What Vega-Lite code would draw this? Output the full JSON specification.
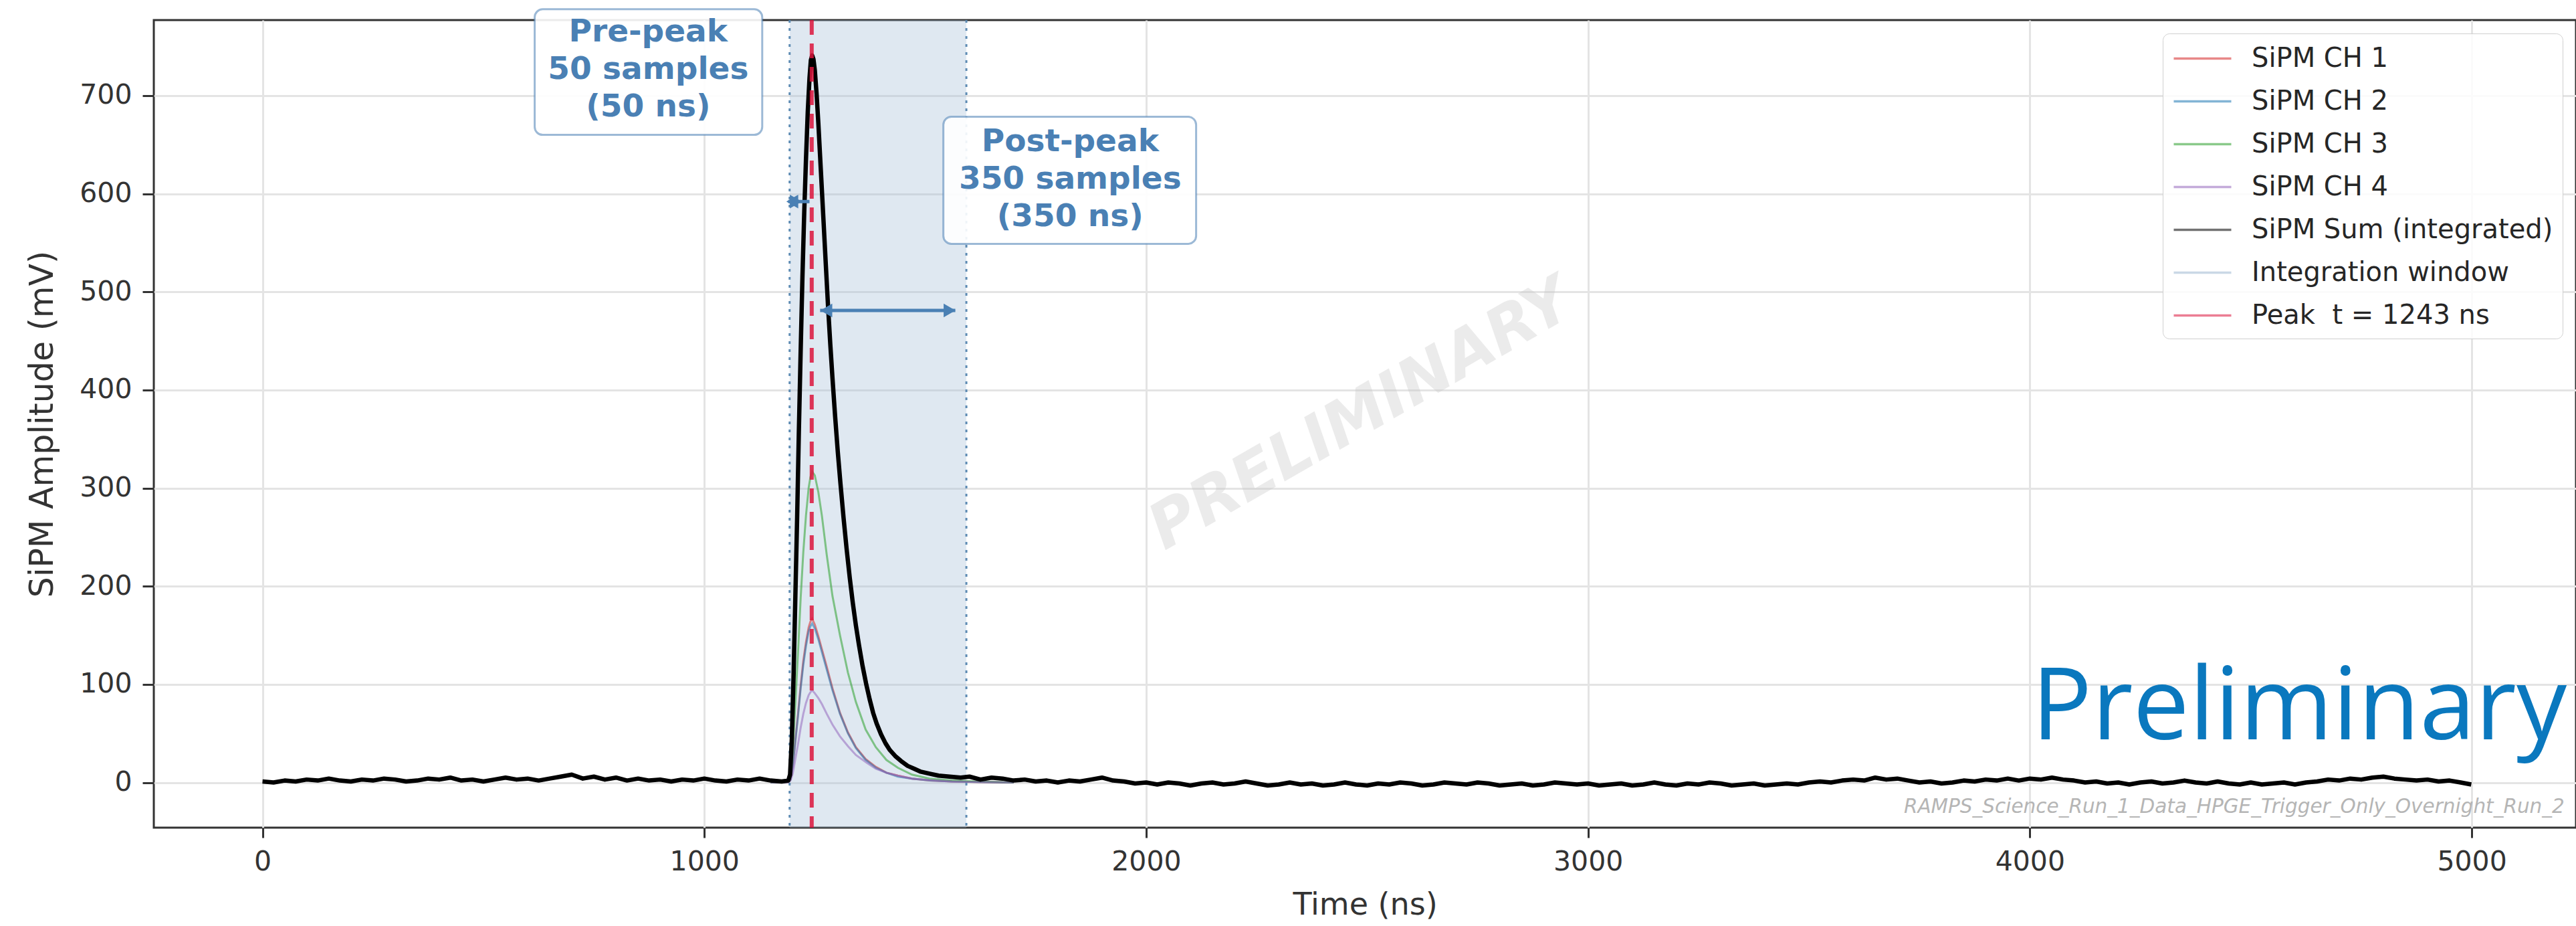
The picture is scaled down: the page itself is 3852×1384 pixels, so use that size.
{
 "$schema": "https://vega.github.io/schema/vega-lite/v6.json",
 "width": 3622,
 "height": 1207,
 "autosize": {"type": "none"},
 "padding": {"left": 230, "top": 30, "right": 0, "bottom": 147},
 "background": "white",
 "config": {
  "font": "DejaVu Sans",
  "view": {"stroke": "#333333", "strokeWidth": 3},
  "axisX": {"tickCount": 6, "format": "d", "domain": false, "grid": true, "gridColor": "#e4e4e4", "gridWidth": 3, "tickSize": 15, "tickWidth": 3, "tickColor": "#333333", "labelFontSize": 41, "labelColor": "#333333", "labelPadding": 16, "titleFontSize": 46, "titleFontWeight": "normal", "titleColor": "#333333", "titlePadding": 22},
  "axisY": {"tickCount": 8, "domain": false, "grid": true, "gridColor": "#e4e4e4", "gridWidth": 3, "tickSize": 17, "tickWidth": 3, "tickColor": "#333333", "labelFontSize": 41, "labelColor": "#333333", "labelPadding": 16, "titleFontSize": 49, "titleFontWeight": "normal", "titleColor": "#333333", "titlePadding": 30}
 },
 "layer": [
  {
   "data": {"values": [{"a": 1193, "b": 1593, "series": "Integration window"}]},
   "mark": {"type": "rect", "fillOpacity": 0.33},
   "encoding": {
    "x": {"field": "a", "type": "quantitative", "title": "Time (ns)", "scale": {"domain": [-246, 5236], "nice": false, "zero": false}, "axis": {"orient": "bottom"}},
    "x2": {"field": "b"},
    "color": {
     "field": "series", "type": "nominal",
     "scale": {"domain": ["SiPM CH 1", "SiPM CH 2", "SiPM CH 3", "SiPM CH 4", "SiPM Sum (integrated)", "Integration window", "Peak\u00a0 t = 1243 ns"],
               "range": ["#d62728", "#1f77b4", "#2ca02c", "#9467bd", "#000000", "#9fbad3", "#dc143c"]},
     "legend": {
      "title": null, "orient": "none", "legendX": 3004, "legendY": 20, "direction": "vertical",
      "fillColor": "rgba(255,255,255,0.85)", "strokeColor": "#d0d0d0", "cornerRadius": 10, "padding": 14,
      "labelFont": "DejaVu Sans", "labelFontSize": 40, "labelColor": "#262626", "labelLimit": 800, "labelOffset": 50,
      "symbolSize": 1849, "symbolOffset": 22, "rowPadding": 20,
      "symbolType": "M-2,0H2",
      "symbolStrokeWidth": 3.5
     }
    }
   }
  },
  {
   "data": {"values": [{"t": 1193}, {"t": 1593}]},
   "mark": {"type": "rule", "color": "#5d8bb3", "strokeWidth": 3, "strokeDash": [4, 8]},
   "encoding": {"x": {"field": "t", "type": "quantitative", "title": "Time (ns)"}}
  },
  {
   "data": {"values": [
   {"series":"SiPM CH 1","t":1150,"v":0},{"series":"SiPM CH 1","t":1190,"v":0.5},{"series":"SiPM CH 1","t":1195,"v":3},{"series":"SiPM CH 1","t":1200,"v":17},{"series":"SiPM CH 1","t":1206,"v":43},{"series":"SiPM CH 1","t":1212,"v":70},{"series":"SiPM CH 1","t":1218,"v":99},{"series":"SiPM CH 1","t":1224,"v":124},{"series":"SiPM CH 1","t":1230,"v":143},{"series":"SiPM CH 1","t":1236,"v":158},{"series":"SiPM CH 1","t":1240,"v":164},{"series":"SiPM CH 1","t":1244,"v":167},{"series":"SiPM CH 1","t":1250,"v":161},{"series":"SiPM CH 1","t":1258,"v":149},{"series":"SiPM CH 1","t":1266,"v":136},{"series":"SiPM CH 1","t":1277,"v":118},{"series":"SiPM CH 1","t":1290,"v":96},{"series":"SiPM CH 1","t":1307,"v":71},{"series":"SiPM CH 1","t":1325,"v":51},{"series":"SiPM CH 1","t":1343,"v":36},{"series":"SiPM CH 1","t":1365,"v":24},{"series":"SiPM CH 1","t":1388,"v":16},{"series":"SiPM CH 1","t":1412,"v":10},{"series":"SiPM CH 1","t":1438,"v":7},{"series":"SiPM CH 1","t":1470,"v":4},{"series":"SiPM CH 1","t":1510,"v":2},{"series":"SiPM CH 1","t":1560,"v":1},{"series":"SiPM CH 1","t":1620,"v":0.5},{"series":"SiPM CH 1","t":1700,"v":0},
   {"series":"SiPM CH 2","t":1150,"v":0},{"series":"SiPM CH 2","t":1190,"v":0.5},{"series":"SiPM CH 2","t":1195,"v":3},{"series":"SiPM CH 2","t":1200,"v":16},{"series":"SiPM CH 2","t":1206,"v":42},{"series":"SiPM CH 2","t":1212,"v":68},{"series":"SiPM CH 2","t":1218,"v":96},{"series":"SiPM CH 2","t":1224,"v":120},{"series":"SiPM CH 2","t":1230,"v":139},{"series":"SiPM CH 2","t":1236,"v":154},{"series":"SiPM CH 2","t":1240,"v":159},{"series":"SiPM CH 2","t":1244,"v":162},{"series":"SiPM CH 2","t":1250,"v":157},{"series":"SiPM CH 2","t":1258,"v":146},{"series":"SiPM CH 2","t":1266,"v":133},{"series":"SiPM CH 2","t":1277,"v":115},{"series":"SiPM CH 2","t":1290,"v":94},{"series":"SiPM CH 2","t":1307,"v":70},{"series":"SiPM CH 2","t":1325,"v":50},{"series":"SiPM CH 2","t":1343,"v":35},{"series":"SiPM CH 2","t":1365,"v":23},{"series":"SiPM CH 2","t":1388,"v":15},{"series":"SiPM CH 2","t":1412,"v":10},{"series":"SiPM CH 2","t":1438,"v":6},{"series":"SiPM CH 2","t":1470,"v":4},{"series":"SiPM CH 2","t":1510,"v":2},{"series":"SiPM CH 2","t":1560,"v":1},{"series":"SiPM CH 2","t":1620,"v":0.5},{"series":"SiPM CH 2","t":1700,"v":0},
   {"series":"SiPM CH 3","t":1150,"v":0},{"series":"SiPM CH 3","t":1190,"v":1},{"series":"SiPM CH 3","t":1195,"v":6},{"series":"SiPM CH 3","t":1200,"v":32},{"series":"SiPM CH 3","t":1206,"v":81},{"series":"SiPM CH 3","t":1212,"v":133},{"series":"SiPM CH 3","t":1218,"v":188},{"series":"SiPM CH 3","t":1224,"v":235},{"series":"SiPM CH 3","t":1230,"v":272},{"series":"SiPM CH 3","t":1236,"v":300},{"series":"SiPM CH 3","t":1240,"v":311},{"series":"SiPM CH 3","t":1244,"v":317},{"series":"SiPM CH 3","t":1250,"v":313},{"series":"SiPM CH 3","t":1258,"v":296},{"series":"SiPM CH 3","t":1266,"v":272},{"series":"SiPM CH 3","t":1277,"v":232},{"series":"SiPM CH 3","t":1290,"v":190},{"series":"SiPM CH 3","t":1307,"v":150},{"series":"SiPM CH 3","t":1325,"v":112},{"series":"SiPM CH 3","t":1343,"v":82},{"series":"SiPM CH 3","t":1365,"v":54},{"series":"SiPM CH 3","t":1388,"v":36},{"series":"SiPM CH 3","t":1412,"v":23},{"series":"SiPM CH 3","t":1438,"v":15},{"series":"SiPM CH 3","t":1470,"v":8},{"series":"SiPM CH 3","t":1510,"v":4},{"series":"SiPM CH 3","t":1560,"v":2},{"series":"SiPM CH 3","t":1620,"v":1},{"series":"SiPM CH 3","t":1700,"v":0},
   {"series":"SiPM CH 4","t":1150,"v":0},{"series":"SiPM CH 4","t":1190,"v":0.3},{"series":"SiPM CH 4","t":1195,"v":2},{"series":"SiPM CH 4","t":1200,"v":9},{"series":"SiPM CH 4","t":1206,"v":24},{"series":"SiPM CH 4","t":1212,"v":39},{"series":"SiPM CH 4","t":1218,"v":56},{"series":"SiPM CH 4","t":1224,"v":70},{"series":"SiPM CH 4","t":1230,"v":81},{"series":"SiPM CH 4","t":1236,"v":89},{"series":"SiPM CH 4","t":1240,"v":92},{"series":"SiPM CH 4","t":1244,"v":94},{"series":"SiPM CH 4","t":1250,"v":91},{"series":"SiPM CH 4","t":1258,"v":86},{"series":"SiPM CH 4","t":1266,"v":80},{"series":"SiPM CH 4","t":1277,"v":70},{"series":"SiPM CH 4","t":1290,"v":59},{"series":"SiPM CH 4","t":1307,"v":47},{"series":"SiPM CH 4","t":1325,"v":37},{"series":"SiPM CH 4","t":1343,"v":28},{"series":"SiPM CH 4","t":1368,"v":20},{"series":"SiPM CH 4","t":1388,"v":14},{"series":"SiPM CH 4","t":1412,"v":10},{"series":"SiPM CH 4","t":1438,"v":7},{"series":"SiPM CH 4","t":1470,"v":4},{"series":"SiPM CH 4","t":1510,"v":2.5},{"series":"SiPM CH 4","t":1560,"v":1},{"series":"SiPM CH 4","t":1620,"v":0.5},{"series":"SiPM CH 4","t":1700,"v":0}
   ]},
   "mark": {"type": "line", "strokeWidth": 3, "opacity": 0.55},
   "encoding": {
    "x": {"field": "t", "type": "quantitative", "title": "Time (ns)"},
    "y": {"field": "v", "type": "quantitative", "title": "SiPM Amplitude (mV)", "scale": {"domain": [-46, 777], "nice": false, "zero": false}},
    "color": {"field": "series", "type": "nominal"}
   }
  },
  {
   "data": {"values": [
   {"series":"SiPM Sum (integrated)","t":0,"v":1},{"series":"SiPM Sum (integrated)","t":25,"v":0},{"series":"SiPM Sum (integrated)","t":50,"v":2},{"series":"SiPM Sum (integrated)","t":75,"v":1},{"series":"SiPM Sum (integrated)","t":100,"v":3},{"series":"SiPM Sum (integrated)","t":125,"v":2},{"series":"SiPM Sum (integrated)","t":150,"v":4},{"series":"SiPM Sum (integrated)","t":175,"v":2},{"series":"SiPM Sum (integrated)","t":200,"v":1},{"series":"SiPM Sum (integrated)","t":225,"v":3},{"series":"SiPM Sum (integrated)","t":250,"v":2},{"series":"SiPM Sum (integrated)","t":275,"v":4},{"series":"SiPM Sum (integrated)","t":300,"v":3},{"series":"SiPM Sum (integrated)","t":325,"v":1},{"series":"SiPM Sum (integrated)","t":350,"v":2},{"series":"SiPM Sum (integrated)","t":375,"v":4},{"series":"SiPM Sum (integrated)","t":400,"v":3},{"series":"SiPM Sum (integrated)","t":425,"v":5},{"series":"SiPM Sum (integrated)","t":450,"v":2},{"series":"SiPM Sum (integrated)","t":475,"v":3},{"series":"SiPM Sum (integrated)","t":500,"v":1},{"series":"SiPM Sum (integrated)","t":525,"v":3},{"series":"SiPM Sum (integrated)","t":550,"v":5},{"series":"SiPM Sum (integrated)","t":575,"v":3},{"series":"SiPM Sum (integrated)","t":600,"v":4},{"series":"SiPM Sum (integrated)","t":625,"v":2},{"series":"SiPM Sum (integrated)","t":650,"v":4},{"series":"SiPM Sum (integrated)","t":675,"v":6},{"series":"SiPM Sum (integrated)","t":700,"v":8},{"series":"SiPM Sum (integrated)","t":725,"v":4},{"series":"SiPM Sum (integrated)","t":750,"v":6},{"series":"SiPM Sum (integrated)","t":775,"v":3},{"series":"SiPM Sum (integrated)","t":800,"v":5},{"series":"SiPM Sum (integrated)","t":825,"v":2},{"series":"SiPM Sum (integrated)","t":850,"v":4},{"series":"SiPM Sum (integrated)","t":875,"v":2},{"series":"SiPM Sum (integrated)","t":900,"v":3},{"series":"SiPM Sum (integrated)","t":925,"v":1},{"series":"SiPM Sum (integrated)","t":950,"v":3},{"series":"SiPM Sum (integrated)","t":975,"v":2},{"series":"SiPM Sum (integrated)","t":1000,"v":4},{"series":"SiPM Sum (integrated)","t":1025,"v":2},{"series":"SiPM Sum (integrated)","t":1050,"v":1},{"series":"SiPM Sum (integrated)","t":1075,"v":3},{"series":"SiPM Sum (integrated)","t":1100,"v":2},{"series":"SiPM Sum (integrated)","t":1125,"v":4},{"series":"SiPM Sum (integrated)","t":1150,"v":2},{"series":"SiPM Sum (integrated)","t":1175,"v":1},{"series":"SiPM Sum (integrated)","t":1190,"v":2},
   {"series":"SiPM Sum (integrated)","t":1194,"v":8},{"series":"SiPM Sum (integrated)","t":1198,"v":45},{"series":"SiPM Sum (integrated)","t":1202,"v":110},{"series":"SiPM Sum (integrated)","t":1206,"v":190},{"series":"SiPM Sum (integrated)","t":1210,"v":270},{"series":"SiPM Sum (integrated)","t":1214,"v":360},{"series":"SiPM Sum (integrated)","t":1218,"v":440},{"series":"SiPM Sum (integrated)","t":1222,"v":515},{"series":"SiPM Sum (integrated)","t":1226,"v":580},{"series":"SiPM Sum (integrated)","t":1230,"v":635},{"series":"SiPM Sum (integrated)","t":1234,"v":683},{"series":"SiPM Sum (integrated)","t":1238,"v":718},{"series":"SiPM Sum (integrated)","t":1241,"v":736},{"series":"SiPM Sum (integrated)","t":1244,"v":741},{"series":"SiPM Sum (integrated)","t":1247,"v":737},{"series":"SiPM Sum (integrated)","t":1250,"v":726},{"series":"SiPM Sum (integrated)","t":1254,"v":702},{"series":"SiPM Sum (integrated)","t":1258,"v":672},{"series":"SiPM Sum (integrated)","t":1262,"v":638},{"series":"SiPM Sum (integrated)","t":1266,"v":604},{"series":"SiPM Sum (integrated)","t":1270,"v":570},{"series":"SiPM Sum (integrated)","t":1275,"v":527},{"series":"SiPM Sum (integrated)","t":1280,"v":485},{"series":"SiPM Sum (integrated)","t":1285,"v":447},{"series":"SiPM Sum (integrated)","t":1290,"v":412},{"series":"SiPM Sum (integrated)","t":1296,"v":373},{"series":"SiPM Sum (integrated)","t":1302,"v":337},{"series":"SiPM Sum (integrated)","t":1308,"v":305},{"series":"SiPM Sum (integrated)","t":1315,"v":270},{"series":"SiPM Sum (integrated)","t":1322,"v":238},{"series":"SiPM Sum (integrated)","t":1329,"v":209},{"series":"SiPM Sum (integrated)","t":1336,"v":183},{"series":"SiPM Sum (integrated)","t":1343,"v":160},{"series":"SiPM Sum (integrated)","t":1350,"v":140},{"series":"SiPM Sum (integrated)","t":1358,"v":119},{"series":"SiPM Sum (integrated)","t":1366,"v":101},{"series":"SiPM Sum (integrated)","t":1374,"v":85},{"series":"SiPM Sum (integrated)","t":1382,"v":71},{"series":"SiPM Sum (integrated)","t":1390,"v":60},{"series":"SiPM Sum (integrated)","t":1400,"v":49},{"series":"SiPM Sum (integrated)","t":1410,"v":40},{"series":"SiPM Sum (integrated)","t":1420,"v":33},{"series":"SiPM Sum (integrated)","t":1432,"v":27},{"series":"SiPM Sum (integrated)","t":1445,"v":22},{"series":"SiPM Sum (integrated)","t":1460,"v":17},{"series":"SiPM Sum (integrated)","t":1475,"v":14},{"series":"SiPM Sum (integrated)","t":1490,"v":11},{"series":"SiPM Sum (integrated)","t":1510,"v":9},{"series":"SiPM Sum (integrated)","t":1530,"v":7},{"series":"SiPM Sum (integrated)","t":1555,"v":6},{"series":"SiPM Sum (integrated)","t":1580,"v":5},{"series":"SiPM Sum (integrated)","t":1600,"v":6},
   {"series":"SiPM Sum (integrated)","t":1625,"v":3},{"series":"SiPM Sum (integrated)","t":1650,"v":5},{"series":"SiPM Sum (integrated)","t":1675,"v":4},{"series":"SiPM Sum (integrated)","t":1700,"v":2},{"series":"SiPM Sum (integrated)","t":1725,"v":3},{"series":"SiPM Sum (integrated)","t":1750,"v":1},{"series":"SiPM Sum (integrated)","t":1775,"v":2},{"series":"SiPM Sum (integrated)","t":1800,"v":0},{"series":"SiPM Sum (integrated)","t":1825,"v":2},{"series":"SiPM Sum (integrated)","t":1850,"v":1},{"series":"SiPM Sum (integrated)","t":1875,"v":3},{"series":"SiPM Sum (integrated)","t":1900,"v":5},{"series":"SiPM Sum (integrated)","t":1925,"v":2},{"series":"SiPM Sum (integrated)","t":1950,"v":1},{"series":"SiPM Sum (integrated)","t":1975,"v":-1},{"series":"SiPM Sum (integrated)","t":2000,"v":0},{"series":"SiPM Sum (integrated)","t":2025,"v":-2},{"series":"SiPM Sum (integrated)","t":2050,"v":0},{"series":"SiPM Sum (integrated)","t":2075,"v":-1},{"series":"SiPM Sum (integrated)","t":2100,"v":-3},{"series":"SiPM Sum (integrated)","t":2125,"v":-1},{"series":"SiPM Sum (integrated)","t":2150,"v":0},{"series":"SiPM Sum (integrated)","t":2175,"v":-2},{"series":"SiPM Sum (integrated)","t":2200,"v":-1},{"series":"SiPM Sum (integrated)","t":2225,"v":1},{"series":"SiPM Sum (integrated)","t":2250,"v":-1},{"series":"SiPM Sum (integrated)","t":2275,"v":-3},{"series":"SiPM Sum (integrated)","t":2300,"v":-2},{"series":"SiPM Sum (integrated)","t":2325,"v":0},{"series":"SiPM Sum (integrated)","t":2350,"v":-2},{"series":"SiPM Sum (integrated)","t":2375,"v":-1},{"series":"SiPM Sum (integrated)","t":2400,"v":-3},{"series":"SiPM Sum (integrated)","t":2425,"v":-2},{"series":"SiPM Sum (integrated)","t":2450,"v":0},{"series":"SiPM Sum (integrated)","t":2475,"v":-2},{"series":"SiPM Sum (integrated)","t":2500,"v":-3},{"series":"SiPM Sum (integrated)","t":2525,"v":-1},{"series":"SiPM Sum (integrated)","t":2550,"v":-2},{"series":"SiPM Sum (integrated)","t":2575,"v":0},{"series":"SiPM Sum (integrated)","t":2600,"v":-1},{"series":"SiPM Sum (integrated)","t":2625,"v":-3},{"series":"SiPM Sum (integrated)","t":2650,"v":-2},{"series":"SiPM Sum (integrated)","t":2675,"v":0},{"series":"SiPM Sum (integrated)","t":2700,"v":-1},{"series":"SiPM Sum (integrated)","t":2725,"v":-2},{"series":"SiPM Sum (integrated)","t":2750,"v":0},{"series":"SiPM Sum (integrated)","t":2775,"v":-1},{"series":"SiPM Sum (integrated)","t":2800,"v":-3},{"series":"SiPM Sum (integrated)","t":2825,"v":-2},{"series":"SiPM Sum (integrated)","t":2850,"v":-1},{"series":"SiPM Sum (integrated)","t":2875,"v":-3},{"series":"SiPM Sum (integrated)","t":2900,"v":-2},{"series":"SiPM Sum (integrated)","t":2925,"v":0},{"series":"SiPM Sum (integrated)","t":2950,"v":-1},{"series":"SiPM Sum (integrated)","t":2975,"v":-2},{"series":"SiPM Sum (integrated)","t":3000,"v":-1},{"series":"SiPM Sum (integrated)","t":3025,"v":-3},{"series":"SiPM Sum (integrated)","t":3050,"v":-2},{"series":"SiPM Sum (integrated)","t":3075,"v":-1},{"series":"SiPM Sum (integrated)","t":3100,"v":-3},{"series":"SiPM Sum (integrated)","t":3125,"v":-2},{"series":"SiPM Sum (integrated)","t":3150,"v":0},{"series":"SiPM Sum (integrated)","t":3175,"v":-2},{"series":"SiPM Sum (integrated)","t":3200,"v":-3},{"series":"SiPM Sum (integrated)","t":3225,"v":-1},{"series":"SiPM Sum (integrated)","t":3250,"v":-2},{"series":"SiPM Sum (integrated)","t":3275,"v":0},{"series":"SiPM Sum (integrated)","t":3300,"v":-1},{"series":"SiPM Sum (integrated)","t":3325,"v":-3},{"series":"SiPM Sum (integrated)","t":3350,"v":-2},{"series":"SiPM Sum (integrated)","t":3375,"v":-1},{"series":"SiPM Sum (integrated)","t":3400,"v":-3},{"series":"SiPM Sum (integrated)","t":3425,"v":-2},{"series":"SiPM Sum (integrated)","t":3450,"v":-1},{"series":"SiPM Sum (integrated)","t":3475,"v":-2},{"series":"SiPM Sum (integrated)","t":3500,"v":0},{"series":"SiPM Sum (integrated)","t":3525,"v":1},{"series":"SiPM Sum (integrated)","t":3550,"v":0},{"series":"SiPM Sum (integrated)","t":3575,"v":2},{"series":"SiPM Sum (integrated)","t":3600,"v":3},{"series":"SiPM Sum (integrated)","t":3625,"v":2},{"series":"SiPM Sum (integrated)","t":3650,"v":5},{"series":"SiPM Sum (integrated)","t":3675,"v":3},{"series":"SiPM Sum (integrated)","t":3700,"v":4},{"series":"SiPM Sum (integrated)","t":3725,"v":2},{"series":"SiPM Sum (integrated)","t":3750,"v":0},{"series":"SiPM Sum (integrated)","t":3775,"v":1},{"series":"SiPM Sum (integrated)","t":3800,"v":-1},{"series":"SiPM Sum (integrated)","t":3825,"v":0},{"series":"SiPM Sum (integrated)","t":3850,"v":2},{"series":"SiPM Sum (integrated)","t":3875,"v":1},{"series":"SiPM Sum (integrated)","t":3900,"v":3},{"series":"SiPM Sum (integrated)","t":3925,"v":2},{"series":"SiPM Sum (integrated)","t":3950,"v":4},{"series":"SiPM Sum (integrated)","t":3975,"v":2},{"series":"SiPM Sum (integrated)","t":4000,"v":4},{"series":"SiPM Sum (integrated)","t":4025,"v":3},{"series":"SiPM Sum (integrated)","t":4050,"v":5},{"series":"SiPM Sum (integrated)","t":4075,"v":3},{"series":"SiPM Sum (integrated)","t":4100,"v":2},{"series":"SiPM Sum (integrated)","t":4125,"v":0},{"series":"SiPM Sum (integrated)","t":4150,"v":1},{"series":"SiPM Sum (integrated)","t":4175,"v":-1},{"series":"SiPM Sum (integrated)","t":4200,"v":0},{"series":"SiPM Sum (integrated)","t":4225,"v":-2},{"series":"SiPM Sum (integrated)","t":4250,"v":0},{"series":"SiPM Sum (integrated)","t":4275,"v":1},{"series":"SiPM Sum (integrated)","t":4300,"v":-1},{"series":"SiPM Sum (integrated)","t":4325,"v":0},{"series":"SiPM Sum (integrated)","t":4350,"v":2},{"series":"SiPM Sum (integrated)","t":4375,"v":0},{"series":"SiPM Sum (integrated)","t":4400,"v":-1},{"series":"SiPM Sum (integrated)","t":4425,"v":1},{"series":"SiPM Sum (integrated)","t":4450,"v":-1},{"series":"SiPM Sum (integrated)","t":4475,"v":-2},{"series":"SiPM Sum (integrated)","t":4500,"v":0},{"series":"SiPM Sum (integrated)","t":4525,"v":-2},{"series":"SiPM Sum (integrated)","t":4550,"v":-1},{"series":"SiPM Sum (integrated)","t":4575,"v":0},{"series":"SiPM Sum (integrated)","t":4600,"v":-2},{"series":"SiPM Sum (integrated)","t":4625,"v":0},{"series":"SiPM Sum (integrated)","t":4650,"v":1},{"series":"SiPM Sum (integrated)","t":4675,"v":3},{"series":"SiPM Sum (integrated)","t":4700,"v":2},{"series":"SiPM Sum (integrated)","t":4725,"v":4},{"series":"SiPM Sum (integrated)","t":4750,"v":3},{"series":"SiPM Sum (integrated)","t":4775,"v":5},{"series":"SiPM Sum (integrated)","t":4800,"v":6},{"series":"SiPM Sum (integrated)","t":4825,"v":4},{"series":"SiPM Sum (integrated)","t":4850,"v":3},{"series":"SiPM Sum (integrated)","t":4875,"v":2},{"series":"SiPM Sum (integrated)","t":4900,"v":3},{"series":"SiPM Sum (integrated)","t":4925,"v":1},{"series":"SiPM Sum (integrated)","t":4950,"v":2},{"series":"SiPM Sum (integrated)","t":4975,"v":0},{"series":"SiPM Sum (integrated)","t":4999,"v":-2}
   ]},
   "mark": {"type": "line", "strokeWidth": 6.5, "strokeJoin": "round"},
   "encoding": {
    "x": {"field": "t", "type": "quantitative", "title": "Time (ns)"},
    "y": {"field": "v", "type": "quantitative", "title": "SiPM Amplitude (mV)"},
    "color": {"field": "series", "type": "nominal"}
   }
  },
  {
   "data": {"values": [{"t": 1243, "series": "Peak\u00a0 t = 1243 ns"}]},
   "mark": {"type": "rule", "strokeWidth": 6, "strokeDash": [22, 13], "opacity": 0.85},
   "encoding": {
    "x": {"field": "t", "type": "quantitative", "title": "Time (ns)"},
    "color": {"field": "series", "type": "nominal"}
   }
  },
  {
   "data": {"values": [{"t": 1190, "t2": 1238, "v": 592}, {"t": 1262, "t2": 1568, "v": 481}]},
   "mark": {"type": "rule", "color": "#4a80b4", "strokeWidth": 5},
   "encoding": {
    "x": {"field": "t", "type": "quantitative", "title": "Time (ns)"},
    "x2": {"field": "t2"},
    "y": {"field": "v", "type": "quantitative", "title": "SiPM Amplitude (mV)"}
   }
  },
  {
   "data": {"values": [{"t": 1199, "v": 592}, {"t": 1276, "v": 481}]},
   "mark": {"type": "point", "shape": "triangle-left", "filled": true, "color": "#4a80b4", "opacity": 1, "size": 420},
   "encoding": {
    "x": {"field": "t", "type": "quantitative", "title": "Time (ns)"},
    "y": {"field": "v", "type": "quantitative", "title": "SiPM Amplitude (mV)"}
   }
  },
  {
   "data": {"values": [{"t": 1207, "v": 592}, {"t": 1555, "v": 481}]},
   "mark": {"type": "point", "shape": "triangle-right", "filled": true, "color": "#4a80b4", "opacity": 1, "size": 420},
   "encoding": {
    "x": {"field": "t", "type": "quantitative", "title": "Time (ns)"},
    "y": {"field": "v", "type": "quantitative", "title": "SiPM Amplitude (mV)"}
   }
  },
  {
   "data": {"values": [{"a": 616, "b": 1131, "lo": 660, "hi": 788}, {"a": 1541, "b": 2113, "lo": 549, "hi": 678.5}]},
   "mark": {"type": "rect", "fill": "white", "fillOpacity": 0.9, "stroke": "#4a80b4", "strokeOpacity": 0.55, "strokeWidth": 3, "cornerRadius": 12},
   "encoding": {
    "x": {"field": "a", "type": "quantitative", "title": "Time (ns)"},
    "x2": {"field": "b"},
    "y": {"field": "lo", "type": "quantitative", "title": "SiPM Amplitude (mV)"},
    "y2": {"field": "hi"}
   }
  },
  {
   "data": {"values": [{"t": 873, "v": 765, "label": "Pre-peak\n50 samples\n(50 ns)"}, {"t": 1828, "v": 652.6, "label": "Post-peak\n350 samples\n(350 ns)"}]},
   "mark": {"type": "text", "font": "DejaVu Sans", "fontWeight": "bold", "fontSize": 47, "lineHeight": 56, "lineBreak": "\n", "color": "#4a80b4", "align": "center", "baseline": "middle"},
   "encoding": {
    "x": {"field": "t", "type": "quantitative", "title": "Time (ns)"},
    "y": {"field": "v", "type": "quantitative", "title": "SiPM Amplitude (mV)"},
    "text": {"field": "label"}
   }
  },
  {
   "data": {"values": [{"t": 2487, "v": 374, "label": "PRELIMINARY"}]},
   "mark": {"type": "text", "font": "DejaVu Sans", "fontWeight": "bold", "fontStyle": "italic", "fontSize": 94, "angle": -30, "color": "#c4c4c4", "opacity": 0.32, "align": "center", "baseline": "middle"},
   "encoding": {
    "x": {"field": "t", "type": "quantitative", "title": "Time (ns)"},
    "y": {"field": "v", "type": "quantitative", "title": "SiPM Amplitude (mV)"},
    "text": {"field": "label"}
   }
  },
  {
   "data": {"values": [{"t": 5210, "v": -25, "label": "RAMPS_Science_Run_1_Data_HPGE_Trigger_Only_Overnight_Run_2"}]},
   "mark": {"type": "text", "font": "DejaVu Sans", "fontStyle": "italic", "fontSize": 29.5, "color": "#b5b5b5", "align": "right", "baseline": "middle"},
   "encoding": {
    "x": {"field": "t", "type": "quantitative", "title": "Time (ns)"},
    "y": {"field": "v", "type": "quantitative", "title": "SiPM Amplitude (mV)"},
    "text": {"field": "label"}
   }
  },
  {
   "data": {"values": [{"t": 4004, "v": 44.3, "label": "Preliminary"}]},
   "mark": {"type": "text", "font": "Open Sans", "fontSize": 150, "color": "#0a78be", "align": "left", "baseline": "alphabetic"},
   "encoding": {
    "x": {"field": "t", "type": "quantitative", "title": "Time (ns)"},
    "y": {"field": "v", "type": "quantitative", "title": "SiPM Amplitude (mV)"},
    "text": {"field": "label"}
   }
  }
 ]
}
